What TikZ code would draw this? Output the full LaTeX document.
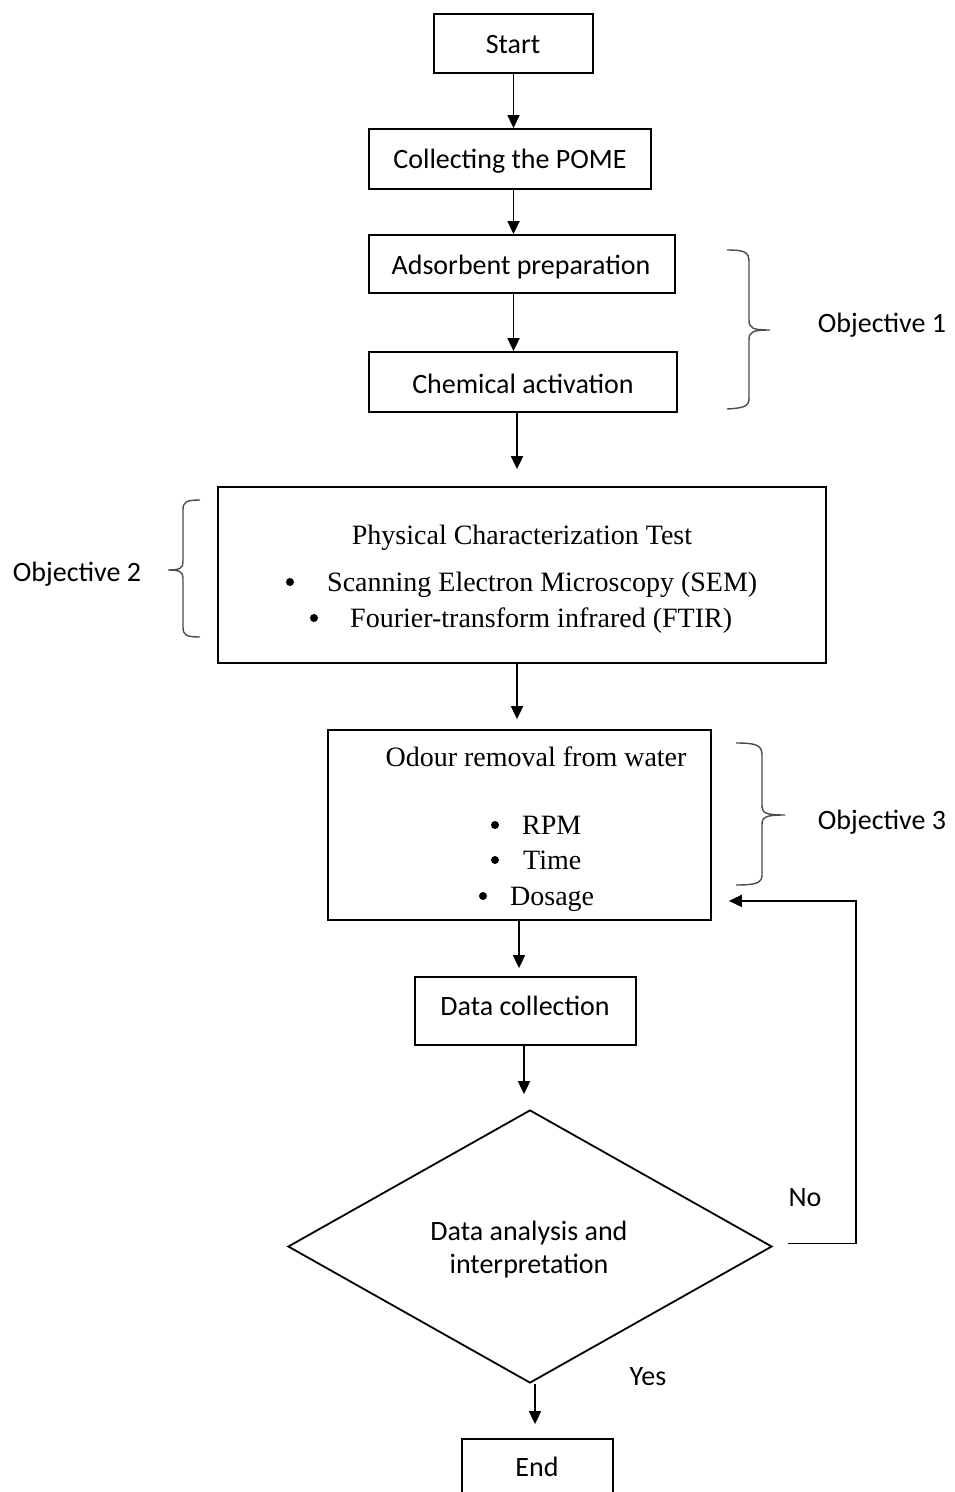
\documentclass[tikz,border=0pt]{standalone}
\usepackage{fontspec}
\setmainfont{Liberation Serif}
\newfontfamily\calibrifont{Carlito}
\usetikzlibrary{arrows.meta,shapes.geometric}
\tikzset{
  box/.style={draw, line width=1.8pt, rectangle, inner sep=0pt},
  arr/.style={line width=1.8pt, -{Triangle[length=13pt,width=12pt]}},
  ct/.style={font=\calibrifont\fontsize{28}{33}\selectfont, inner sep=0pt, anchor=base},
  tt/.style={font=\fontsize{28}{33}\selectfont, inner sep=0pt, anchor=base},
  tw/.style={font=\fontsize{28}{33}\selectfont, inner sep=0pt, anchor=base west},
  dot/.style={circle, fill, inner sep=0pt, minimum size=8pt},
  brace/.style={draw=black!70, line width=1.4pt}
}
\begin{document}
\begin{tikzpicture}[x=1pt,y=-1pt]
\useasboundingbox (0,0) rectangle (954,1492);
% boxes
\node[box, minimum width=159pt, minimum height=59pt] (start) at (513.5,43.5) {};
\node[box, minimum width=282pt, minimum height=60pt] (coll) at (510,159) {};
\node[box, minimum width=306pt, minimum height=58pt] (ads) at (522,264) {};
\node[box, minimum width=308pt, minimum height=60pt] (chem) at (523,382) {};
\node[box, minimum width=608pt, minimum height=176pt] (phys) at (522,575) {};
\node[box, minimum width=383pt, minimum height=190pt] (odour) at (519.5,825) {};
\node[box, minimum width=221pt, minimum height=68pt] (dcoll) at (525.5,1011) {};
\node[draw, line width=1.8pt, diamond, inner sep=0pt, minimum width=484pt, minimum height=273pt] (dia) at (530,1246.5) {};
\node[box, minimum width=151pt, minimum height=62pt] (end) at (537.5,1470) {};
% texts
\node[ct] (tstart) at (513,53) {Start};
\node[ct] (tcoll) at (510,168) {Collecting the POME};
\node[ct] (tads) at (521,274) {Adsorbent preparation};
\node[ct] (tchem) at (523,393) {Chemical activation};
\node[tt] (tphys) at (522,544) {Physical Characterization Test};
\node[dot] (b1) at (290,582) {};
\node[tw] (sem) at (327,591) {Scanning Electron Microscopy (SEM)};
\node[dot] (b2) at (314,618) {};
\node[tw] (ftir) at (350,627) {Fourier-transform infrared (FTIR)};
\node[tt] (todour) at (536,766) {Odour removal from water};
\node[dot] (b3) at (495,825) {};
\node[tw] (rpm) at (522,834) {RPM};
\node[dot] (b4) at (495,860) {};
\node[tw] (time) at (523,869) {Time};
\node[dot] (b5) at (483,896) {};
\node[tw] (dos) at (510,905) {Dosage};
\node[ct] (tdcoll) at (525,1015) {Data collection};
\node[ct] (tdia1) at (529,1240) {Data analysis and};
\node[ct] (tdia2) at (529,1273) {interpretation};
\node[ct] (tend) at (537,1476) {End};
\node[ct] (obj1) at (882,332) {Objective 1};
\node[ct] (obj2) at (77,581) {Objective 2};
\node[ct] (obj3) at (882,829) {Objective 3};
\node[ct] (no) at (805,1206) {No};
\node[ct] (yes) at (648,1385) {Yes};
% connectors
\draw[arr] (start.south) -- (start.south |- coll.north);
\draw[arr] (coll.south -| start.south) -- (ads.north -| start.south);
\draw[arr] (ads.south -| start.south) -- (chem.north -| start.south);
\draw[arr, shorten >=17pt] ([xshift=-6pt]chem.south) -- ([xshift=-5pt]phys.north);
\draw[arr, shorten >=10pt] ([xshift=-5pt]phys.south) -- ([xshift=-5pt]phys.south |- odour.north);
\draw[arr, shorten >=8pt] ([xshift=-0.5pt]odour.south) -- ([xshift=-0.5pt]odour.south |- dcoll.north);
\draw[arr, shorten >=15pt] ([xshift=-1.5pt]dcoll.south) -- ([xshift=-1.5pt]dcoll.south |- dia.north);
\draw[arr, shorten >=14pt] ([xshift=5pt]dia.south) -- ([xshift=5pt]dia.south |- end.north);
\draw[arr, shorten >=17pt] ([xshift=15pt,yshift=3pt]dia.east) -| ([xshift=144pt,yshift=20pt]odour.south east) -- ([yshift=20pt]odour.south east);
% braces
\draw[brace] (727,250) .. controls (745,250) and (749,252) .. (749,262) -- (749,320) .. controls (749,328) and (752,330) .. (770,330)
  .. controls (752,330) and (749,332) .. (749,340) -- (749,398) .. controls (749,406) and (745,408) .. (727,409);
\draw[brace] (736,743) .. controls (756,743) and (762,745) .. (762,755) -- (762,805) .. controls (762,813) and (765,815) .. (785,815)
  .. controls (765,815) and (762,817) .. (762,825) -- (762,875) .. controls (762,883) and (756,885) .. (736,885);
\draw[brace] (200,500) .. controls (186,500) and (183,502) .. (183,510) -- (183,562) .. controls (183,568) and (180,570) .. (168,570)
  .. controls (180,570) and (183,572) .. (183,578) -- (183,627) .. controls (183,635) and (186,637) .. (200,637);
\end{tikzpicture}
\end{document}
